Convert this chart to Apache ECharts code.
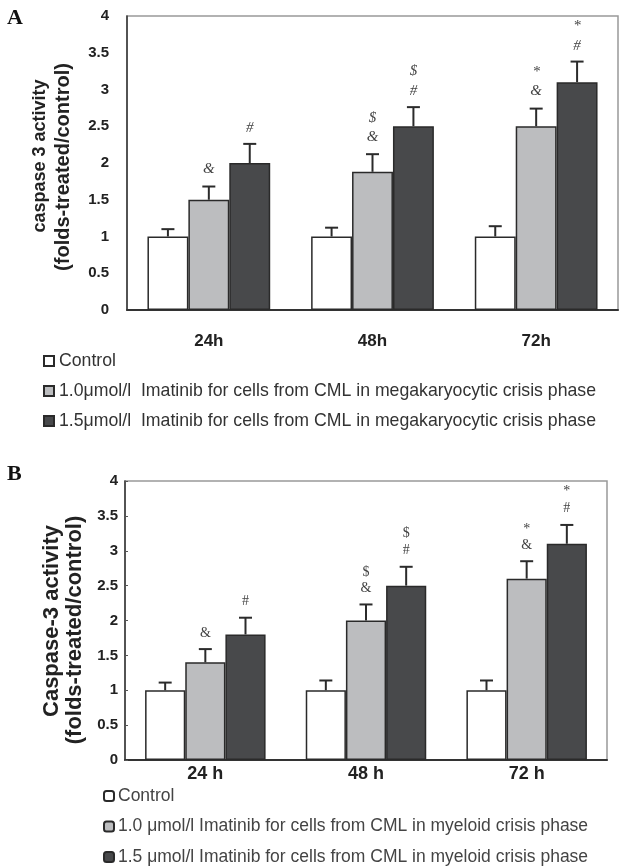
<!DOCTYPE html>
<html>
<head>
<meta charset="utf-8">
<script src="https://cdn.jsdelivr.net/npm/echarts@6/dist/echarts.min.js"></script>
<style>html,body{margin:0;padding:0;background:#fff}#c{width:620px;height:866px}</style>
</head>
<body>
<div id="c"></div>
<script>
// ---- Panel A data ----
const catsA = ['24h', '48h', '72h'];
const namesA = ['Control',
  '1.0\u03bcmol/l  Imatinib for cells from CML in megakaryocytic crisis phase',
  '1.5\u03bcmol/l  Imatinib for cells from CML in megakaryocytic crisis phase'];
const A_ctrl = [1.0, 1.0, 1.0];
const A_ctrlErr = [0.10, 0.12, 0.14];
const A_low = [1.5, 1.88, 2.5];
const A_lowErr = [0.18, 0.24, 0.24];
const A_high = [2.0, 2.5, 3.1];
const A_highErr = [0.26, 0.26, 0.28];
const A_lowAnn = ['&', '$\n&', '*\n&'];
const A_highAnn = ['#', '$\n#', '*\n#'];

// ---- Panel B data ----
const catsB = ['24 h', '48 h', '72 h'];
const namesB = ['Control ',
  '1.0 \u03bcmol/l Imatinib for cells from CML in myeloid crisis phase',
  '1.5 \u03bcmol/l Imatinib for cells from CML in myeloid crisis phase'];
const B_ctrl = [1.0, 1.0, 1.0];
const B_ctrlErr = [0.11, 0.14, 0.14];
const B_low = [1.4, 2.0, 2.6];
const B_lowErr = [0.19, 0.23, 0.25];
const B_high = [1.8, 2.5, 3.1];
const B_highErr = [0.24, 0.27, 0.27];
const B_lowAnn = ['&', '$\n&', '*\n&'];
const B_highAnn = ['#', '$\n#', '*\n#'];

const yTicks = [0, 0.5, 1, 1.5, 2, 2.5, 3, 3.5, 4];

const fills = ['#ffffff', '#bcbdbf', '#48494b'];
const chart = echarts.init(document.getElementById('c'));

function errSeries(gridIdx, slot, vals, errs, anns, annFont, lineH, lift) {
  return {
    type: 'custom', xAxisIndex: gridIdx, yAxisIndex: gridIdx, z: 10,
    silent: true,
    data: vals.map((v, i) => [i, v, errs[i]]),
    encode: { x: 0, y: 1 },
    renderItem: function (params, api) {
      const cat = api.value(0), v = api.value(1), e = api.value(2);
      const base = api.coord([cat, v]);
      const top = api.coord([cat, v + e]);
      const bw = api.size([1, 0])[0] * 0.75 / 3;
      const x = base[0] + (slot - 1) * bw;
      const st = { stroke: '#2b2b2b', lineWidth: 2 };
      const ch = [
        { type: 'line', shape: { x1: x, y1: base[1], x2: x, y2: top[1] }, style: st },
        { type: 'line', shape: { x1: x - 6.5, y1: top[1], x2: x + 6.5, y2: top[1] }, style: st }
      ];
      if (anns && anns[params.dataIndex]) {
        ch.push({ type: 'text', x: x, y: top[1] - lift,
          style: { text: anns[params.dataIndex], fill: '#444', font: annFont,
            align: 'center', verticalAlign: 'bottom', textAlign: 'center', textVerticalAlign: 'bottom', lineHeight: lineH } });
      }
      return { type: 'group', children: ch };
    }
  };
}

function barSeries(gridIdx, name, vals, slot) {
  return {
    type: 'bar', name: name, xAxisIndex: gridIdx, yAxisIndex: gridIdx,
    data: vals, barGap: '0%', barCategoryGap: '25%',
    itemStyle: { color: fills[slot], borderColor: '#2a2a2a', borderWidth: 1.5 },
    emphasis: { disabled: true }
  };
}

const fontA = 'italic 15px "Liberation Serif"';
const fontB = '14px "Liberation Serif"';

chart.setOption({
  animation: false,
  backgroundColor: '#ffffff',
  textStyle: { fontFamily: 'Liberation Sans' },
  grid: [
    { left: 127, top: 16, right: 2, bottom: 556, show: true, borderColor: '#999', borderWidth: 1.5 },
    { left: 125, top: 481, right: 13, bottom: 106, show: true, borderColor: '#999', borderWidth: 1.5 }
  ],
  xAxis: [
    { type: 'category', gridIndex: 0, data: catsA,
      axisLine: { lineStyle: { color: '#333', width: 2 } },
      axisTick: { inside: true, length: 5, lineStyle: { color: '#333', width: 1.5 } },
      axisLabel: { margin: 23, fontSize: 17, fontWeight: 'bold', color: '#222' } },
    { type: 'category', gridIndex: 1, data: catsB,
      axisLine: { lineStyle: { color: '#333', width: 2 } },
      axisTick: { inside: true, length: 5, lineStyle: { color: '#333', width: 1.5 } },
      axisLabel: { margin: 5, fontSize: 18, fontWeight: 'bold', color: '#222' } }
  ],
  yAxis: [
    { type: 'value', gridIndex: 0, min: 0, max: 4, interval: 0.5,
      axisLine: { show: true, lineStyle: { color: '#333', width: 1.5 } },
      axisTick: { show: false }, splitLine: { show: false },
      axisLabel: { margin: 18, fontSize: 15, fontWeight: 'bold', color: '#222',
        formatter: v => yTicks.includes(v) ? String(v) : '' } },
    { type: 'value', gridIndex: 1, min: 0, max: 4, interval: 0.5,
      axisLine: { show: true, lineStyle: { color: '#333', width: 1.5 } },
      axisTick: { show: true, inside: true, length: 3, lineStyle: { color: '#555' } },
      splitLine: { show: false },
      axisLabel: { margin: 7, fontSize: 15, fontWeight: 'bold', color: '#222',
        formatter: v => yTicks.includes(v) ? String(v) : '' } }
  ],
  legend: [
    { data: namesA, orient: 'vertical', left: 43, top: 352, padding: 0,
      itemWidth: 10, itemHeight: 10, itemGap: 12, icon: 'rect', selectedMode: false,
      textStyle: { fontSize: 17.7, color: '#333', padding: [0, 0, 0, 0] } },
    { data: namesB, orient: 'vertical', left: 103, top: 787, padding: 0,
      itemWidth: 10, itemHeight: 10, itemGap: 12.5, icon: 'roundRect', selectedMode: false,
      textStyle: { fontSize: 17.5, color: '#444', padding: [0, 0, 0, -1] } }
  ],
  graphic: [
    { type: 'text', left: 7, top: 7, style: { text: 'A', font: 'bold 22px "Liberation Serif"', fill: '#111' } },
    { type: 'text', left: 7, top: 463, style: { text: 'B', font: 'bold 22px "Liberation Serif"', fill: '#111' } },
    { type: 'text', x: 40, y: 156, rotation: Math.PI / 2,
      style: { text: 'caspase 3 activity', font: 'bold 18px "Liberation Sans"', fill: '#222', align: 'center', verticalAlign: 'middle' } },
    { type: 'text', x: 63, y: 167, rotation: Math.PI / 2,
      style: { text: '(folds-treated/control)', font: 'bold 20px "Liberation Sans"', fill: '#222', align: 'center', verticalAlign: 'middle' } },
    { type: 'text', x: 52, y: 621, rotation: Math.PI / 2,
      style: { text: 'Caspase-3 activity', font: 'bold 22px "Liberation Sans"', fill: '#222', align: 'center', verticalAlign: 'middle' } },
    { type: 'text', x: 75, y: 630, rotation: Math.PI / 2,
      style: { text: '(folds-treated/control)', font: 'bold 22px "Liberation Sans"', fill: '#222', align: 'center', verticalAlign: 'middle' } }
  ],
  series: [
    barSeries(0, namesA[0], A_ctrl, 0),
    barSeries(0, namesA[1], A_low, 1),
    barSeries(0, namesA[2], A_high, 2),
    errSeries(0, 0, A_ctrl, A_ctrlErr, null, fontA, 19, 0),
    errSeries(0, 1, A_low, A_lowErr, A_lowAnn, fontA, 19, 8),
    errSeries(0, 2, A_high, A_highErr, A_highAnn, fontA, 20, 6),
    barSeries(1, namesB[0], B_ctrl, 0),
    barSeries(1, namesB[1], B_low, 1),
    barSeries(1, namesB[2], B_high, 2),
    errSeries(1, 0, B_ctrl, B_ctrlErr, null, fontB, 16, 0),
    errSeries(1, 1, B_low, B_lowErr, B_lowAnn, fontB, 16, 8),
    errSeries(1, 2, B_high, B_highErr, B_highAnn, fontB, 17, 8)
  ]
});
</script>
</body>
</html>
